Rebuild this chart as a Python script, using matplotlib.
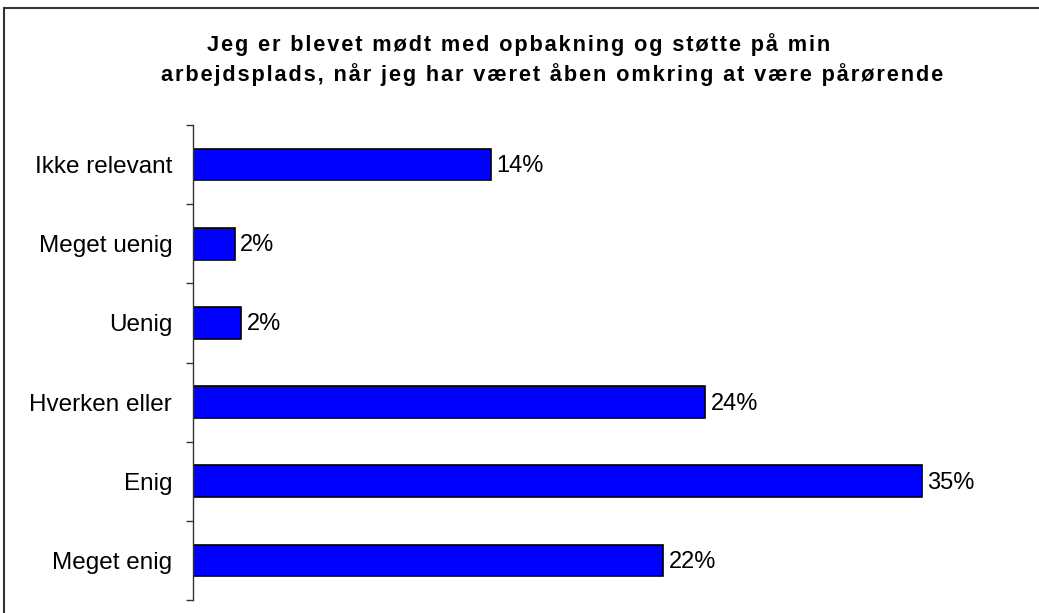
import matplotlib.pyplot as plt
import numpy as np
from matplotlib.patches import Rectangle

# survey answers (share of respondents, %)
categories = ['Ikke relevant', 'Meget uenig', 'Uenig', 'Hverken eller', 'Enig', 'Meget enig']
values = [14.2, 2.0, 2.3, 24.4, 34.7, 22.4]
labels = ['14%', '2%', '2%', '24%', '35%', '22%']
title_lines = ['Jeg er blevet mødt med opbakning og støtte på min',
               'arbejdsplads, når jeg har været åben omkring at være pårørende']

plt.rcParams['font.family'] = ['Liberation Sans', 'DejaVu Sans']

W, H = 1039, 613
fig = plt.figure(figsize=(W / 100, H / 100), dpi=100)

# chart frame (cut off at right and bottom in the original)
fig.patches.append(Rectangle((4 / W, -0.1), 1.2, 1 - 8 / H + 0.1,
                             transform=fig.transFigure, fill=False,
                             edgecolor='#333333', linewidth=1.5))

ax = fig.add_axes([193 / W, 13 / H, 840 / W, 475 / H])
y = np.arange(len(categories))
ax.barh(y, values, height=0.4, color='#0000ff', edgecolor='black', linewidth=1.2)
ax.set_ylim(len(categories) - 0.5, -0.5)
ax.set_xlim(0, 40)

for yi, v, lab in zip(y, values, labels):
    ax.text(v + 0.25, yi + 0.02, lab, va='center', ha='left', fontsize=17)

# tick marks between categories, labels at centres
ax.set_yticks(np.arange(-0.5, len(categories)), labels=[''] * (len(categories) + 1))
ax.set_yticks(y, labels=categories, minor=True)
ax.tick_params(axis='y', which='major', length=5, width=1, color='#333333', direction='out')
ax.tick_params(axis='y', which='minor', length=0, pad=15, labelsize=17.5)
ax.set_xticks([])
for s in ['top', 'right', 'bottom']:
    ax.spines[s].set_visible(False)
ax.spines['left'].set_color('#333333')
ax.spines['left'].set_linewidth(1)

# title is letter-spaced in the original: hair spaces between characters
spaced = ['\u200a'.join(line) for line in title_lines]
fig.text(519 / W, 1 - 45 / H, spaced[0], ha='center', va='center',
         fontsize=15.7, fontweight='bold')
fig.text(552 / W, 1 - 75 / H, spaced[1], ha='center', va='center',
         fontsize=15.7, fontweight='bold')

fig.savefig('out.png', dpi=100)
